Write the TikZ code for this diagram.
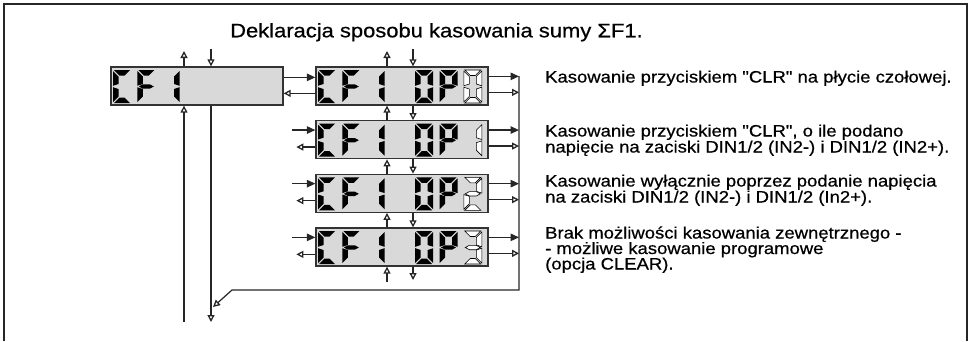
\documentclass[tikz,border=0pt]{standalone}
\usepackage{fontspec}
\setmainfont{Liberation Sans}
\newfontfamily\txtfont[FakeStretch=1.12,FakeBold=0.6]{Liberation Sans}
\usetikzlibrary{arrows.meta}

\tikzset{
  segst/.style={fill=black},
  conn/.style={line width=1.2pt, draw=black!85},
  oarr/.style={-{Triangle[open,length=7pt,width=7pt,line width=1.3pt]}},
  farr/.style={-{Triangle[length=8.5pt,width=7.5pt]}},
  dispbox/.style={draw=black!80, line width=1.3pt, fill=black!15,
    minimum width=172pt, minimum height=38pt, inner sep=0pt},
  titletext/.style={anchor=base west, inner sep=0pt,
    font=\txtfont\fontsize{19.6}{20}\selectfont},
  bodytext/.style={anchor=base west, inner sep=0pt,
    font=\txtfont\fontsize{16.5}{16}\selectfont},
  hollow/.style={segst/.style={fill=white, draw=black, line width=0.6pt}},
}

% seven-segment pieces, cell 18 x 33
\newcommand\segA{\path[segst] (1,0) -- (17,0) -- (11.5,5.5) -- (6.5,5.5) -- cycle;}
\newcommand\segD{\path[segst] (1,33) -- (17,33) -- (11.5,27.5) -- (6.5,27.5) -- cycle;}
\newcommand\segF{\path[segst] (0,1) -- (5.5,6.5) -- (5.5,14) -- (0,15.8) -- cycle;}
\newcommand\segE{\path[segst] (0,32) -- (5.5,26.5) -- (5.5,19) -- (0,17.2) -- cycle;}
\newcommand\segB{\path[segst] (18,1) -- (12.5,6.5) -- (12.5,14) -- (18,15.8) -- cycle;}
\newcommand\segC{\path[segst] (18,32) -- (12.5,26.5) -- (12.5,19) -- (18,17.2) -- cycle;}
\newcommand\segG{\path[segst] (1.5,16.5) -- (5.5,14.3) -- (12.5,14.3) -- (16.5,16.5) -- (12.5,18.7) -- (5.5,18.7) -- cycle;}

\newcommand\gC{\segA\segD\segE\segF}
\newcommand\gF{\segA\segE\segF\segG}
\newcommand\gOne{\segB\segC}
\newcommand\gZero{\segA\segB\segC\segD\segE\segF}
\newcommand\gP{\segA\segB\segE\segF\segG}
\newcommand\gTwo{\segA\segB\segG\segE\segD}
\newcommand\gThree{\segA\segB\segG\segC\segD}

\newcommand\glyphat[3]{\begin{scope}[shift={(#1,#2)}]#3\end{scope}}
% #1 left x of box, #2 top y of box
\newcommand\cfone[2]{%
  \glyphat{#1+2}{#2+3}{\gC}%
  \glyphat{#1+26.3}{#2+3}{\gF}%
  \glyphat{#1+50.6}{#2+3}{\gOne}}
% #3 last glyph
\newcommand\cfop[3]{%
  \cfone{#1}{#2}%
  \glyphat{#1+99.2}{#2+3}{\gZero}%
  \glyphat{#1+123.5}{#2+3}{\gP}%
  \begin{scope}[hollow]\glyphat{#1+147.8}{#2+3}{#3}\end{scope}}

\begin{document}
\begin{tikzpicture}[x=1pt,y=-1pt]
\useasboundingbox (0,0) rectangle (971,341);

% frame (open at the bottom)
\draw[line width=2.6pt, black!85] (4,341) -- (4,4) -- (967,4) -- (967,341);

% title
\node[titletext] (title) at (230,37.3) {Deklaracja sposobu kasowania sumy ΣF1.};

% display boxes
\node[dispbox] (L)  at (197,86)    {};
\node[dispbox] (D1) at (402,86)    {};
\node[dispbox] (D2) at (402,139.7) {};
\node[dispbox] (D3) at (402,193.3) {};
\node[dispbox] (D4) at (402,247)   {};

% digits
\cfone{111}{67}
\cfop{316}{67}{\gZero}
\cfop{316}{120.7}{\gOne}
\cfop{316}{174.3}{\gTwo}
\cfop{316}{228}{\gThree}

% helper coordinates
\coordinate (ux) at (387,0);
\coordinate (dx) at (413,0);
\coordinate (Lt1) at (184,51);
\coordinate (Lt2) at (211,49);
\coordinate (Lb1) at (184,322);
\coordinate (Lb2) at (211,322);
\coordinate (Dt1) at (387,51);
\coordinate (Dt2) at (413,49);
\coordinate (Db1) at (387,282);
\coordinate (Db2) at (413,280);
\coordinate (busTop) at (519,76);
\coordinate (busBot) at (519,290);
\coordinate (bend) at (232,290);
\coordinate (diagEnd) at (213,307);

% left box vertical connectors
\draw[conn,oarr] (L.north -| Lt1) -- (Lt1);
\draw[conn,oarr] (Lt2) -- (L.north -| Lt2);
\draw[conn,oarr] (Lb1) -- (L.south -| Lb1);
\draw[conn,oarr] (L.south -| Lb2) -- (Lb2);

% L <-> D1
\draw[conn,farr] ([yshift=-11pt]L.north east) -- ([yshift=-11pt]D1.north west);
\draw[conn,oarr] ([yshift=-27pt]D1.north west) -- ([yshift=-27pt]L.north east);

% incoming/outgoing on the left of D2..D4
\foreach \d in {D2,D3,D4}{
  \draw[conn,farr] ([xshift=-23pt,yshift=-10pt]\d.north west) -- ([yshift=-10pt]\d.north west);
  \draw[conn,oarr] ([yshift=-27pt]\d.north west) -- ([xshift=-19pt,yshift=-27pt]\d.north west);
}

% vertical arrows on the displays
\draw[conn,oarr] (D1.north -| Dt1) -- (Dt1);
\draw[conn,oarr] (Dt2) -- (D1.north -| Dt2);
\draw[conn,oarr] (D2.north -| ux) -- (D1.south -| ux);
\draw[conn,oarr] (D1.south -| dx) -- (D2.north -| dx);
\draw[conn,oarr] (D3.north -| ux) -- (D2.south -| ux);
\draw[conn,oarr] (D2.south -| dx) -- (D3.north -| dx);
\draw[conn,oarr] (D4.north -| ux) -- (D3.south -| ux);
\draw[conn,oarr] (D3.south -| dx) -- (D4.north -| dx);
\draw[conn,oarr] (Db1) -- (D4.south -| Db1);
\draw[conn,oarr] (D4.south -| Db2) -- (Db2);

% right side arrows to the bus
\foreach \d in {D1,D2,D3,D4}{
  \draw[conn,farr] ([yshift=-10pt]\d.north east) -- ([yshift=-10pt]\d.north east -| busTop);
  \draw[conn,oarr] ([yshift=-26pt]\d.north east) -- ([yshift=-26pt]\d.north east -| busTop);
}
\draw[conn,oarr] (busTop) -- (busBot) -- (bend) -- (diagEnd);

% descriptions
\node[bodytext] (t1)  at (545,82.5) {Kasowanie przyciskiem "CLR" na płycie czołowej.};
\node[bodytext] (t2a) at (545,136.5) {Kasowanie przyciskiem "CLR", o ile podano};
\node[bodytext] (t2b) at (545,152.5) {napięcie na zaciski DIN1/2 (IN2-) i DIN1/2 (IN2+).};
\node[bodytext] (t3a) at (545,186.5) {Kasowanie wyłącznie poprzez podanie napięcia};
\node[bodytext] (t3b) at (545,202.5) {na zaciski DIN1/2 (IN2-) i DIN1/2 (In2+).};
\node[bodytext] (t4a) at (545,238.5) {Brak możliwości kasowania zewnętrznego -};
\node[bodytext] (t4b) at (545,254) {- możliwe kasowanie programowe};
\node[bodytext] (t4c) at (545,269.5) {(opcja CLEAR).};
\end{tikzpicture}
\end{document}
